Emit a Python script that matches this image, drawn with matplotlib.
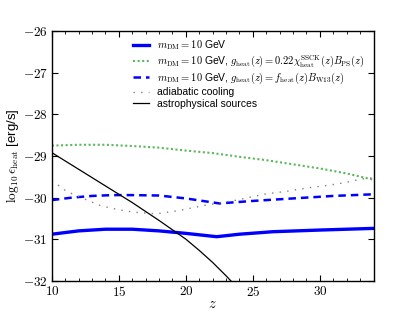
import numpy as np
import matplotlib
matplotlib.use("Agg")
import matplotlib.pyplot as plt
from matplotlib.ticker import MultipleLocator, FuncFormatter

plt.rcParams['font.family'] = ['Liberation Sans', 'DejaVu Sans']
plt.rcParams['mathtext.fontset'] = 'cm'

# values
z_dm = [10, 12, 14, 16, 18, 20, 22.3, 24, 26.5, 30, 34]
eps_dm = [-30.88, -30.8, -30.76, -30.76, -30.8, -30.86, -30.94, -30.88, -30.82, -30.78, -30.74]

z_ssck = [10, 12, 14, 16, 18, 20, 22, 24, 26, 28, 30, 32, 34]
eps_ssck = [-28.75, -28.73, -28.73, -28.76, -28.8, -28.87, -28.93, -29.02, -29.1, -29.2, -29.3, -29.42, -29.57]

z_w13 = [10, 11.5, 13, 14.5, 16, 18, 20, 22.5, 25, 28, 31, 34]
eps_w13 = [-30.06, -30.0, -29.96, -29.94, -29.94, -29.95, -30.02, -30.14, -30.08, -30.02, -29.96, -29.92]

z_adiab = [10, 11.1, 12.4, 13.6, 14.8, 16.1, 17.8, 19.5, 21.5, 23.8, 24.8, 26, 27.5, 29, 30.5, 31.7, 33.2, 34]
eps_adiab = [-29.59, -29.85, -30.03, -30.19, -30.28, -30.35, -30.39, -30.31, -30.18, -30.06, -29.99, -29.91, -29.85, -29.77, -29.71, -29.65, -29.55, -29.52]

z_astro = [10, 12, 14, 16, 18, 20, 21, 22, 23, 24]
eps_astro = [-28.92, -29.32, -29.72, -30.12, -30.55, -31.0, -31.27, -31.56, -31.88, -32.22]

fig = plt.figure(figsize=(4.15, 3.12), dpi=100)
ax = fig.add_axes([0.125, 0.1, 0.775, 0.8])

ax.plot(z_dm, eps_dm, color='blue', lw=2.4, label=r'$m_{\rm DM} = 10$ GeV')
ax.plot(z_ssck, eps_ssck, color='#5cb85c', lw=1.5, ls=(0, (1, 1.2)),
        label=r'$m_{\rm DM} = 10$ GeV, $g_{\rm heat}(z) = 0.22\chi_{\rm heat}^{\rm SSCK}(z)B_{\rm PS}(z)$')
ax.plot(z_w13, eps_w13, color='blue', lw=1.8, ls='--', dashes=(3, 2),
        label=r'$m_{\rm DM} = 10$ GeV, $g_{\rm heat}(z) = f_{\rm heat}(z)B_{\rm W13}(z)$')
ax.plot(z_adiab, eps_adiab, color='gray', lw=1.0, ls=(0, (1, 4.5)), label='adiabatic cooling')
ax.plot(z_astro, eps_astro, color='black', lw=0.9, label='astrophysical sources')

ax.set_xlim(10, 34)
ax.set_ylim(-32, -26)
ax.xaxis.set_major_locator(MultipleLocator(5))
ax.xaxis.set_minor_locator(MultipleLocator(1))
ax.yaxis.set_major_locator(MultipleLocator(1))
fmt = FuncFormatter(lambda v, p: r'$%d$' % round(v))
ax.xaxis.set_major_formatter(fmt)
ax.yaxis.set_major_formatter(fmt)
ax.tick_params(which='both', direction='in', top=True, right=True, labelsize=9.5)
ax.tick_params(which='major', length=4, pad=3)
ax.tick_params(which='minor', length=2)
for s in ax.spines.values():
    s.set_linewidth(1.0)

ax.set_xlabel(r'$z$', fontsize=10.5)
ax.xaxis.set_label_coords(0.5, -0.065)
ax.set_ylabel(r'$\log_{10}\epsilon_{\rm heat}$ [erg/s]', fontsize=9.5)
ax.yaxis.set_label_coords(-0.097, 0.5)

ax.legend(loc='upper right', fontsize=7.5, frameon=False, handlelength=1.5,
          handletextpad=0.8, labelspacing=0.12, borderaxespad=0.3,
          bbox_to_anchor=(0.995, 1.0))

fig.savefig('out.png', dpi=100)
